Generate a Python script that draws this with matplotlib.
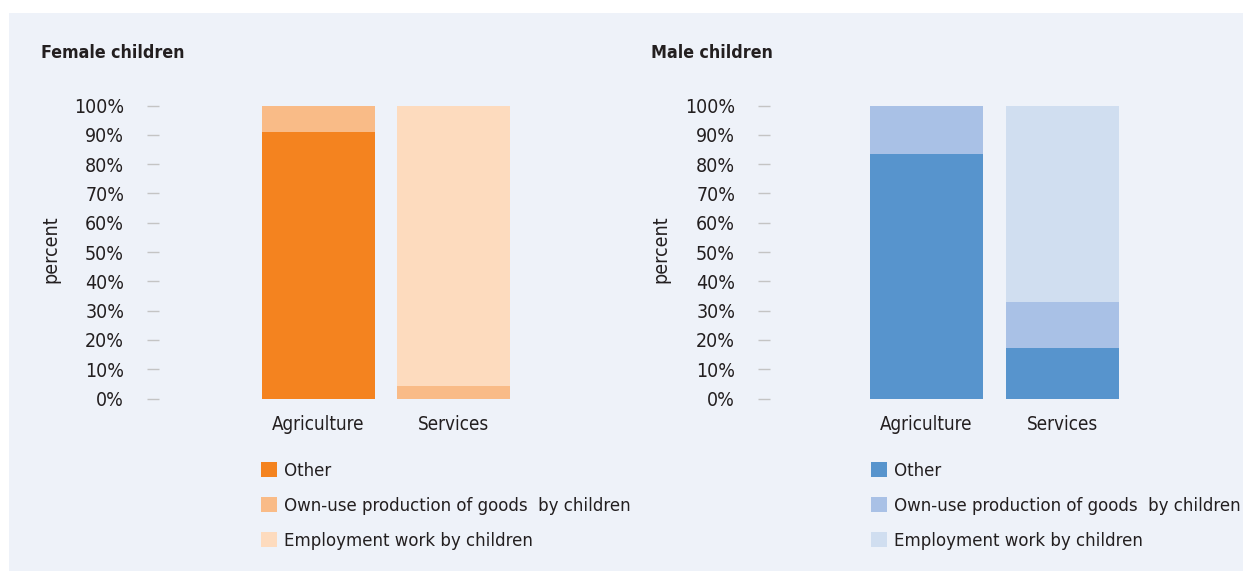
import matplotlib
matplotlib.use("Agg")
import matplotlib.pyplot as plt
from matplotlib.patches import Rectangle, Patch
import numpy as np

#========================================================================================
# data (percent)
sectors = ["Agriculture", "Services"]
series = ["Other", "Own-use production of goods  by children", "Employment work by children"]

female_other = [91.0, 0.0]
female_own_use = [9.0, 4.4]
female_employment = [0.0, 95.6]

male_other = [83.3, 17.4]
male_own_use = [16.7, 15.4]
male_employment = [0.0, 67.2]

yticks = np.arange(0, 101, 10)
ytick_labels = ["%d%%" % v for v in yticks]

female_colors = ["#F4831F", "#F9BB87", "#FDDBBE"]
male_colors = ["#5794CD", "#A9C1E6", "#D0DEF0"]

#========================================================================================
W, H = 1243, 571
BG = "#EEF2F9"
TXT = "#231F20"
plt.rcParams['font.family'] = ['DejaVu Sans']
plt.rcParams['font.stretch'] = 'condensed'

fig = plt.figure(figsize=(W / 100, H / 100), dpi=100)
fig.patches.append(Rectangle((9 / W, 0), 1 - 9 / W, 1 - 13 / H, transform=fig.transFigure,
                             facecolor=BG, edgecolor="none", zorder=-10))


def fx(x):
    return x / W


def fy(y):
    return 1 - y / H


def panel(title, stacks, colors, x0, left_px, bar0_px, step_px, right_px):
    fp = dict(stretch="condensed")
    ax = fig.add_axes([fx(left_px), fy(398.5), fx(right_px - left_px), (398.5 - 105.5) / H])
    ax.set_facecolor("none")
    x = np.arange(len(sectors))
    bottom = np.zeros(len(sectors))
    for vals, c in zip(stacks, colors):
        ax.bar(x, vals, width=113 / step_px, bottom=bottom, color=c, linewidth=0)
        bottom += np.array(vals)
    ax.set_xlim(-(bar0_px - left_px) / step_px, (right_px - bar0_px) / step_px)
    ax.set_ylim(0, 100)
    ax.set_yticks(yticks)
    ax.set_yticklabels(ytick_labels, fontsize=14, color=TXT, **fp)
    ax.set_xticks(x)
    ax.set_xticklabels(sectors, fontsize=13.5, color=TXT, **fp)
    ax.tick_params(axis="y", direction="out", length=8.6, width=1, color="#C4C4C4", pad=16.5)
    ax.tick_params(axis="x", length=0, pad=12)
    for s in ax.spines.values():
        s.set_visible(False)

    fig.text(fx(x0 + 41), fy(53), title, fontsize=12.8, fontweight="bold", color=TXT,
             ha="left", va="center", **fp)
    fig.text(fx(x0 + 50.5), fy(249), "percent", fontsize=14, color=TXT, rotation=90,
             ha="center", va="center", **fp)

    handles = [Patch(facecolor=c, edgecolor="none") for c in colors]
    fig.legend(handles, series, loc="upper left", bbox_to_anchor=(fx(x0 + 261), fy(462)),
               frameon=False, prop=dict(size=13.3, **fp), handlelength=0.86, handleheight=0.86,
               handletextpad=0.4, labelspacing=0.92, borderpad=0, borderaxespad=0,
               labelcolor=TXT)
    return ax


panel("Female children", [female_other, female_own_use, female_employment],
      female_colors, 0, 159, 318.5, 135, 600)
panel("Male children", [male_other, male_own_use, male_employment],
      male_colors, 610, 770, 926.5, 136, 1211)

fig.savefig("out.png", dpi=100, facecolor="white")
